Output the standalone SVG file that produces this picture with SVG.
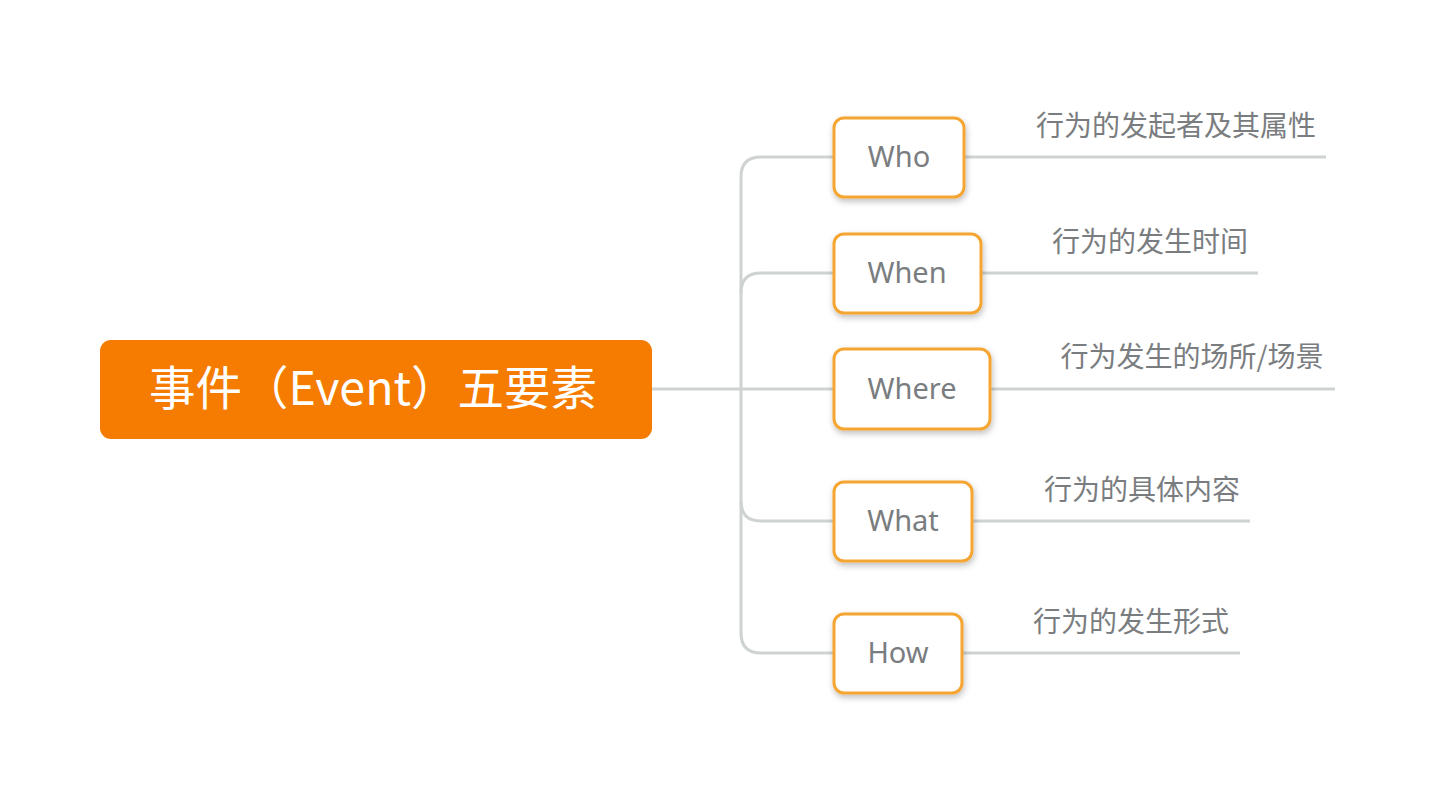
<svg xmlns="http://www.w3.org/2000/svg" width="1435" height="796" viewBox="0 0 1435 796">
<style>
.conn{fill:none;stroke:#CFD2D2;stroke-width:3}
.node rect{fill:#fff;stroke:#F5A531;stroke-width:3}
.nt{font-family:"Noto Sans","Open Sans",sans-serif;font-size:29px;fill:#7A7D80;text-anchor:middle}
.lt{font-family:"Noto Sans CJK SC","Noto Sans",sans-serif;font-size:28px;fill:#7A7D80;text-anchor:middle}
</style>
<defs>
<filter id="sh" x="-20%" y="-20%" width="140%" height="150%">
<feDropShadow dx="1" dy="3" stdDeviation="3" flood-color="#000" flood-opacity="0.25"/>
</filter>
</defs>
<rect width="1435" height="796" fill="#fff"/>
<g id="connectors">
<path class="conn" d="M652,389 H834"/>
<path class="conn" d="M834,157 H761 Q741,157 741,177 V633 Q741,653 761,653 H834"/>
<path class="conn" d="M741,293 Q741,273 761,273 H834"/>
<path class="conn" d="M741,501 Q741,521 761,521 H834"/>
<path class="conn" d="M964,157 H1326"/>
<path class="conn" d="M981,273 H1258"/>
<path class="conn" d="M990,389 H1335"/>
<path class="conn" d="M972,521 H1250"/>
<path class="conn" d="M962,653 H1240"/>
</g>
<g id="root">
<rect x="100" y="340" width="552" height="99" rx="11" fill="#F57C00"/>
<text x="373" y="405" font-family="Noto Sans CJK SC, Noto Sans, sans-serif" font-size="46.5" fill="#fff" text-anchor="middle">事件（Event）五要素</text>
</g>
<g id="who" class="node">
<rect x="834" y="118" width="130" height="79" rx="10" filter="url(#sh)"/>
<text class="nt" x="899" y="167">Who</text>
</g>
<g id="when" class="node">
<rect x="834" y="234" width="147" height="79" rx="10" filter="url(#sh)"/>
<text class="nt" x="907" y="283">When</text>
</g>
<g id="where" class="node">
<rect x="834" y="349" width="156" height="80" rx="10" filter="url(#sh)"/>
<text class="nt" x="912" y="399">Where</text>
</g>
<g id="what" class="node">
<rect x="834" y="482" width="138" height="79" rx="10" filter="url(#sh)"/>
<text class="nt" x="903" y="531">What</text>
</g>
<g id="how" class="node">
<rect x="834" y="614" width="128" height="79" rx="10" filter="url(#sh)"/>
<text class="nt" x="898" y="663">How</text>
</g>
<g id="labels">
<text class="lt" x="1176" y="136">行为的发起者及其属性</text>
<text class="lt" x="1150" y="252">行为的发生时间</text>
<text class="lt" x="1192" y="367">行为发生的场所/场景</text>
<text class="lt" x="1142" y="500">行为的具体内容</text>
<text class="lt" x="1131" y="632">行为的发生形式</text>
</g>
</svg>
